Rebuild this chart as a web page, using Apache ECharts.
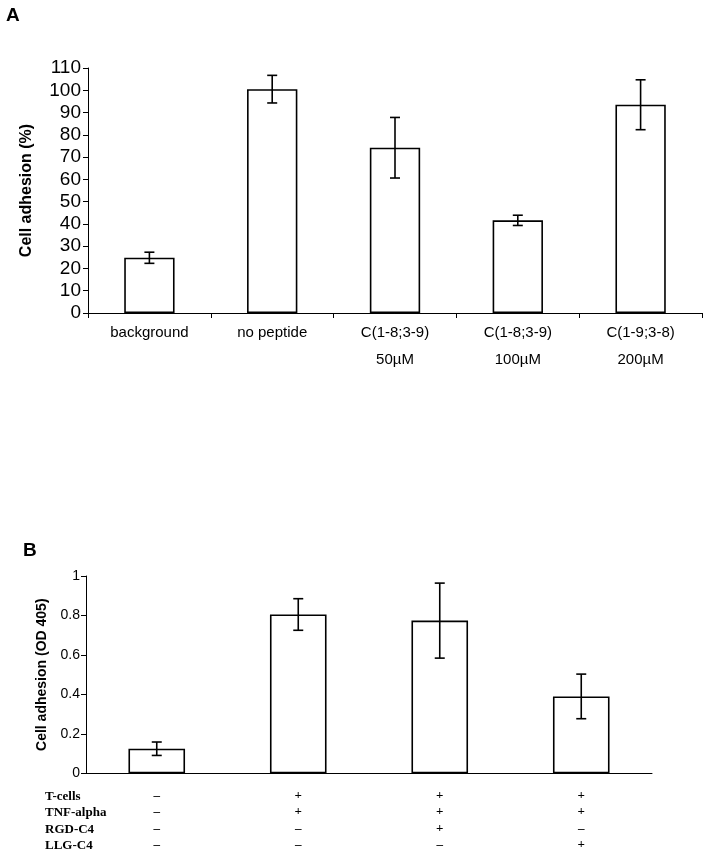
<!DOCTYPE html>
<html>
<head>
<meta charset="utf-8">
<script src="https://cdn.jsdelivr.net/npm/echarts@6/dist/echarts.min.js"></script>
<style>
  html, body { margin: 0; padding: 0; background: #fff; }
  #chart { width: 706px; height: 853px; }
</style>
</head>
<body>
<div id="chart"></div>
<script>
// panel A
var catsA = ['background', 'no peptide', 'C(1-8;3-9)\n50\u00b5M', 'C(1-8;3-9)\n100\u00b5M', 'C(1-9;3-8)\n200\u00b5M'];
var meanA = [24.8, 100.5, 74.2, 41.6, 93.5];
var errA = [2.5, 6.2, 13.6, 2.3, 11.2];

// panel B
var catsB = ['0', '1', '2', '3'];
var meanB = [0.125, 0.805, 0.774, 0.39];
var errB = [0.034, 0.08, 0.19, 0.113];
var rowNames = ['T-cells', 'TNF-alpha', 'RGD-C4', 'LLG-C4'];
var rowSigns = [
	['\u2013', '+', '+', '+'],
	['\u2013', '+', '+', '+'],
	['\u2013', '\u2013', '+', '\u2013'],
	['\u2013', '\u2013', '\u2013', '+']
];

function errData(mean, err){
	var out = [];
	for (var i = 0; i < mean.length; i++) {
		out.push([i, mean[i] - err[i], mean[i] + err[i]]);
	}
	return out;
}

function errSeries(xi, yi, data, cap){
	return {
		type: 'custom',
		xAxisIndex: xi,
		yAxisIndex: yi,
		data: data,
		z: 5,
		renderItem: function(params, api){
			var lo = api.coord([api.value(0), api.value(1)]);
			var hi = api.coord([api.value(0), api.value(2)]);
			var st = { stroke: '#000', lineWidth: 1.6 };
			return {
				type: 'group',
				children: [
					{ type: 'line', shape: { x1: lo[0], y1: lo[1], x2: hi[0], y2: hi[1] }, style: st },
					{ type: 'line', shape: { x1: hi[0] - cap, y1: hi[1], x2: hi[0] + cap, y2: hi[1] }, style: st },
					{ type: 'line', shape: { x1: lo[0] - cap, y1: lo[1], x2: lo[0] + cap, y2: lo[1] }, style: st }
				]
			};
		}
	};
}

var axisLine = { lineStyle: { color: '#000', width: 1 } };

var rowLabels = [];
for (var r = 0; r < rowNames.length; r++) {
	rowLabels.push({
		type: 'text',
		left: 45,
		top: 790 + r * 16.4,
		style: { text: rowNames[r], font: 'bold 13px "Liberation Serif", serif', fill: '#000' }
	});
}

var chart = echarts.init(document.getElementById('chart'));
chart.setOption({
	backgroundColor: '#fff',
	animation: false,
	textStyle: { fontFamily: '"Liberation Sans", Arial, sans-serif', color: '#000' },
	graphic: [
		{ type: 'text', left: 6, top: 6, style: { text: 'A', font: 'bold 19px "Liberation Sans", Arial', fill: '#000' } },
		{ type: 'text', left: 23, top: 541, style: { text: 'B', font: 'bold 19px "Liberation Sans", Arial', fill: '#000' } }
	].concat(rowLabels),
	grid: [
		{ left: 88, right: 4, top: 68, height: 245 },
		{ left: 86, right: 54, top: 576, height: 198 }
	],
	xAxis: [
		{
			type: 'category', gridIndex: 0, data: catsA,
			axisLine: axisLine,
			axisTick: { show: true, length: 5, lineStyle: { color: '#000' } },
			axisLabel: { color: '#000', fontSize: 15, lineHeight: 27, margin: 6 }
		},
		{
			type: 'category', gridIndex: 1, data: catsB,
			axisLine: axisLine,
			axisTick: { show: false },
			axisLabel: {
				color: '#000', fontSize: 13, lineHeight: 16.4, margin: 14,
				fontFamily: '"Liberation Serif", serif', fontWeight: 'bold',
				formatter: function(v, i){
					var s = [];
					for (var r = 0; r < rowSigns.length; r++) s.push(rowSigns[r][i]);
					return s.join('\n');
				}
			}
		}
	],
	yAxis: [
		{
			type: 'value', gridIndex: 0, min: 0, max: 110, interval: 10,
			name: 'Cell adhesion (%)', nameLocation: 'middle', nameGap: 53,
			nameTextStyle: { fontSize: 16, fontWeight: 'bold', color: '#000' },
			axisLine: { show: true, lineStyle: { color: '#000', width: 1 } },
			axisTick: { show: true, length: 5, lineStyle: { color: '#000' } },
			axisLabel: { color: '#000', fontSize: 19, margin: 7 },
			splitLine: { show: false }
		},
		{
			type: 'value', gridIndex: 1, min: 0, max: 1, interval: 0.2,
			name: 'Cell adhesion (OD 405)', nameLocation: 'middle', nameGap: 34,
			nameTextStyle: { fontSize: 14, fontWeight: 'bold', color: '#000' },
			axisLine: { show: true, lineStyle: { color: '#000', width: 1 } },
			axisTick: { show: true, length: 5, lineStyle: { color: '#000' } },
			axisLabel: { color: '#000', fontSize: 14, margin: 6 },
			splitLine: { show: false }
		}
	],
	series: [
		{
			type: 'bar', xAxisIndex: 0, yAxisIndex: 0, data: meanA, barWidth: '41%',
			itemStyle: { color: '#fff', borderColor: '#000', borderWidth: 1.6 }
		},
		errSeries(0, 0, errData(meanA, errA), 5),
		{
			type: 'bar', xAxisIndex: 1, yAxisIndex: 1, data: meanB, barWidth: '40%',
			itemStyle: { color: '#fff', borderColor: '#000', borderWidth: 1.6 }
		},
		errSeries(1, 1, errData(meanB, errB), 5)
	]
});
</script>
</body>
</html>
